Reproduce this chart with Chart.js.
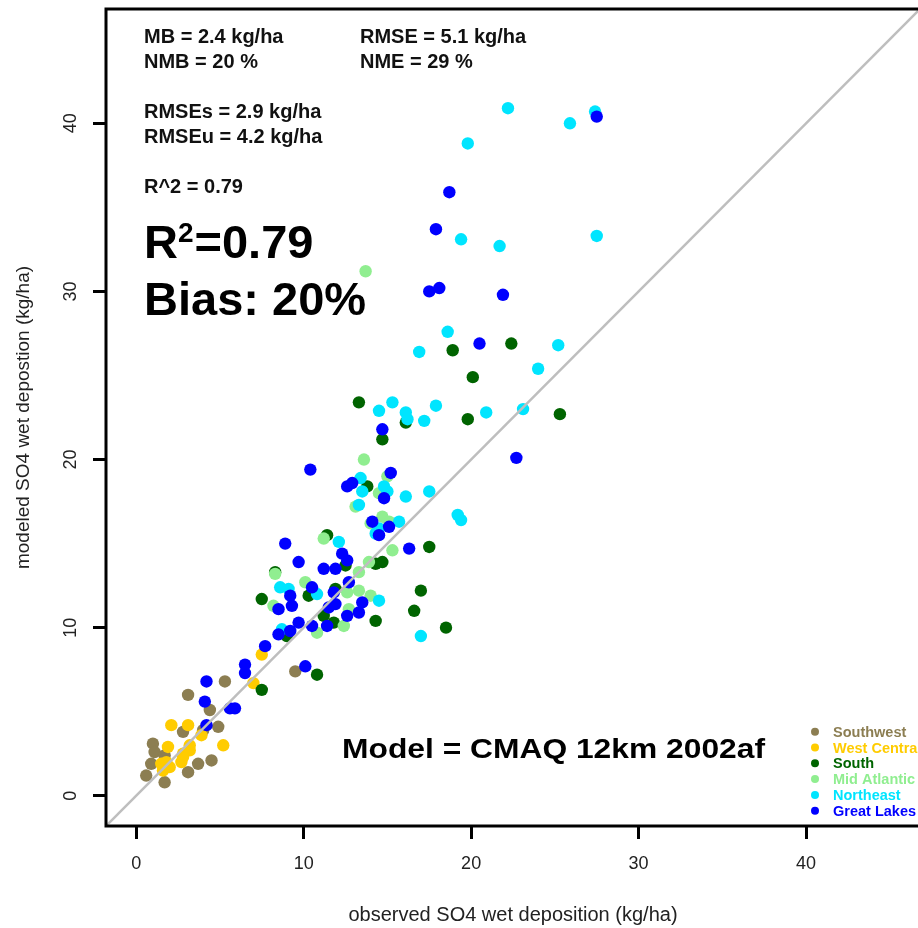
<!DOCTYPE html>
<html>
<head>
<meta charset="utf-8">
<script src="https://cdn.jsdelivr.net/npm/chart.js@4.4.1/dist/chart.umd.min.js"></script>
<style>
html, body { margin: 0; padding: 0; background: #fff; overflow: hidden; }
#wrap { width: 940px; height: 928px; }
</style>
</head>
<body>
<div id="wrap"><canvas id="myChart" width="940" height="928"></canvas></div>
<script>
const FONT = "'Liberation Sans', Arial, Helvetica, sans-serif";

// Regions (legend order) and their colours
const regions = ['Southwest', 'West Central', 'South', 'Mid Atlantic', 'Northeast', 'Great Lakes'];
const regionColors = ['#8C7E52', '#FFCC00', '#006400', '#90EE90', '#00E5FF', '#0000FF'];

// observed / modeled SO4 wet deposition (kg/ha)
const southwestObs = [0.6, 1.7, 0.9, 1.0, 1.1, 1.7, 3.1, 5.3, 9.5, 4.4, 2.8, 4.0, 4.9, 3.7, 4.5, 3.1];
const southwestMod = [1.2, 0.8, 1.9, 3.1, 2.6, 2.4, 6.0, 6.8, 7.4, 5.1, 3.8, 3.9, 4.1, 1.9, 2.1, 1.4];

const westCentralObs = [7.5, 7.0, 2.1, 3.1, 3.9, 1.9, 3.2, 5.2, 2.8, 3.2, 1.5, 1.8, 2.7, 2.8, 1.6, 2.0];
const westCentralMod = [8.4, 6.7, 4.2, 4.2, 3.6, 2.9, 3.0, 3.0, 2.5, 2.7, 1.9, 2.0, 2.0, 2.3, 1.5, 1.7];

const southObs = [7.5, 9.0, 13.3, 16.1, 14.7, 13.8, 11.4, 14.7, 14.3, 17.5, 8.3, 12.5, 11.9, 10.3,
                  7.5, 17.0, 16.6, 18.5, 14.3, 11.2, 11.8, 10.8, 18.9, 22.4, 20.1, 19.8, 25.3];
const southMod = [6.3, 9.5, 23.4, 22.2, 21.2, 18.4, 15.5, 13.9, 13.8, 14.8, 13.3, 13.7, 12.3, 11.9,
                  11.7, 12.2, 11.0, 10.0, 10.4, 10.7, 10.3, 7.2, 26.5, 26.9, 24.9, 22.4, 22.7];

const midAtlanticObs = [13.7, 13.6, 15.0, 14.5, 13.1, 14.0, 14.7, 15.1, 11.2, 15.3, 13.9, 13.3, 8.3,
                        10.1, 12.6, 13.3, 14.0, 8.2, 12.7, 12.4, 10.8];
const midAtlanticMod = [31.2, 20.0, 19.0, 18.0, 17.2, 16.2, 16.6, 16.3, 15.3, 14.6, 13.9, 13.3, 13.2,
                        12.7, 12.1, 12.2, 11.9, 11.3, 11.1, 10.1, 9.7];

const northeastObs = [22.2, 27.4, 25.9, 19.8, 19.4, 21.7, 27.5, 18.6, 16.9, 25.2, 24.0, 15.3, 17.9,
                      16.1, 20.9, 23.1, 17.2, 16.2, 14.5, 17.5, 16.1, 14.8, 15.0, 15.7, 19.2, 19.4,
                      14.5, 17.0, 14.5, 13.4, 13.5, 13.3, 14.3, 12.1, 8.6, 9.1, 10.8, 8.7];
const northeastMod = [40.9, 40.7, 40.0, 38.8, 33.1, 32.7, 33.3, 27.6, 26.4, 26.8, 25.4, 23.4, 23.2,
                      22.8, 22.8, 23.0, 22.3, 22.4, 22.9, 18.1, 17.8, 18.4, 18.1, 16.3, 16.7, 16.4,
                      15.9, 9.5, 11.6, 18.9, 18.1, 17.3, 15.6, 15.1, 12.4, 12.3, 12.0, 9.9];

const greatLakesObs = [27.5, 18.7, 17.9, 17.5, 18.1, 21.9, 20.5, 22.7, 16.3, 14.7, 15.2, 15.1, 10.4,
                       12.6, 12.9, 14.8, 14.1, 14.5, 8.9, 9.7, 12.3, 12.6, 11.2, 11.9, 12.7, 10.5,
                       9.2, 11.8, 9.3, 8.5, 11.9, 11.5, 13.5, 13.3, 12.6, 9.7, 10.5, 11.4, 8.5,
                       9.2, 7.7, 10.1, 6.5, 6.5, 4.2, 4.1, 5.6, 5.9, 4.2];
const greatLakesMod = [40.4, 35.9, 33.7, 30.0, 30.2, 29.8, 26.9, 20.1, 14.7, 21.8, 19.2, 16.0, 19.4,
                       18.4, 18.6, 17.7, 16.3, 15.5, 15.0, 13.9, 14.4, 14.0, 13.5, 13.5, 12.7, 12.4,
                       11.9, 12.1, 11.3, 11.1, 11.4, 11.2, 11.5, 10.9, 10.7, 10.3, 10.1, 10.1, 9.6,
                       9.8, 8.9, 7.7, 7.8, 7.3, 6.8, 5.6, 5.2, 5.2, 4.2];

const obsSeries = [southwestObs, westCentralObs, southObs, midAtlanticObs, northeastObs, greatLakesObs];
const modSeries = [southwestMod, westCentralMod, southMod, midAtlanticMod, northeastMod, greatLakesMod];

// axes
const xTicks = [0, 10, 20, 30, 40];
const yTicks = [0, 10, 20, 30, 40];
const axisMin = -1.8;
const axisMax = 46.8;

// statistics text
const statsLeft = ['MB = 2.4 kg/ha', 'NMB = 20 %'];
const statsRight = ['RMSE = 5.1 kg/ha', 'NME = 29 %'];
const statsRmse = ['RMSEs = 2.9 kg/ha', 'RMSEu = 4.2 kg/ha'];
const statsR2 = 'R^2 = 0.79';
const bigR2 = '=0.79';
const bigBias = 'Bias: 20%';
const modelLabel = 'Model = CMAQ 12km 2002af';

// build datasets
const datasets = [{
    type: 'line',
    label: '1:1',
    data: [{x: axisMin, y: axisMin}, {x: axisMax, y: axisMax}],
    borderColor: '#BEBEBE',
    borderWidth: 2.5,
    pointRadius: 0,
    order: 0
}];
regions.forEach(function(name, i) {
    datasets.push({
        label: name,
        data: obsSeries[i].map(function(v, j) { return {x: v, y: modSeries[i][j]}; }),
        backgroundColor: regionColors[i],
        borderColor: regionColors[i],
        borderWidth: 0,
        pointRadius: 6.2,
        order: 7 - i
    });
});

// box, rotated y labels, annotations and legend
const extras = {
    id: 'extras',
    afterDraw(chart) {
        const ctx = chart.ctx;
        const a = chart.chartArea;
        ctx.save();
        // box
        ctx.strokeStyle = '#000';
        ctx.lineWidth = 3;
        ctx.strokeRect(a.left, a.top, a.right - a.left, a.bottom - a.top);

        // y tick labels (rotated like R)
        const ys = chart.scales.y;
        ctx.fillStyle = '#222';
        ctx.font = '18px ' + FONT;
        ctx.textAlign = 'center';
        ctx.textBaseline = 'middle';
        yTicks.forEach(function(v) {
            ctx.save();
            ctx.translate(71, ys.getPixelForValue(v));
            ctx.rotate(-Math.PI / 2);
            ctx.fillText(String(v), 0, 0);
            ctx.restore();
        });

        // statistics
        ctx.fillStyle = '#111';
        ctx.textAlign = 'left';
        ctx.textBaseline = 'alphabetic';
        ctx.font = 'bold 20px ' + FONT;
        ctx.fillText(statsLeft[0], 144, 43);
        ctx.fillText(statsLeft[1], 144, 68);
        ctx.fillText(statsRight[0], 360, 43);
        ctx.fillText(statsRight[1], 360, 68);
        ctx.fillText(statsRmse[0], 144, 118);
        ctx.fillText(statsRmse[1], 144, 143);
        ctx.fillText(statsR2, 144, 193);

        // big R^2 and bias
        ctx.fillStyle = '#000';
        ctx.font = 'bold 47px ' + FONT;
        ctx.fillText('R', 144, 258);
        let x = 144 + ctx.measureText('R').width;
        ctx.font = 'bold 28px ' + FONT;
        ctx.fillText('2', x, 242);
        x += ctx.measureText('2').width + 1;
        ctx.font = 'bold 47px ' + FONT;
        ctx.fillText(bigR2, x, 258);
        ctx.fillText(bigBias, 144, 315);

        // model label (wide)
        ctx.font = 'bold 27px ' + FONT;
        const w = ctx.measureText(modelLabel).width;
        ctx.save();
        ctx.translate(342, 758);
        ctx.scale(423 / w, 1);
        ctx.fillText(modelLabel, 0, 0);
        ctx.restore();

        // legend
        ctx.font = 'bold 14.5px ' + FONT;
        ctx.textBaseline = 'middle';
        regions.forEach(function(name, i) {
            const ly = 731.7 + i * 15.8;
            ctx.fillStyle = regionColors[i];
            ctx.beginPath();
            ctx.arc(815, ly, 4, 0, Math.PI * 2);
            ctx.fill();
            ctx.fillText(name, 833, ly + 1);
        });
        ctx.restore();
    }
};

const ctx = document.getElementById('myChart').getContext('2d');
new Chart(ctx, {
    type: 'scatter',
    data: { datasets: datasets },
    options: {
        responsive: false,
        devicePixelRatio: 1,
        animation: false,
        layout: { padding: { left: 0, top: 9, right: 20, bottom: 0 } },
        plugins: {
            legend: { display: false },
            tooltip: { enabled: false }
        },
        scales: {
            x: {
                type: 'linear',
                min: axisMin,
                max: axisMax,
                afterFit: function(s) { s.height = 102; },
                afterBuildTicks: function(s) { s.ticks = xTicks.map(function(v) { return {value: v}; }); },
                grid: { drawOnChartArea: false, drawTicks: true, tickLength: 13, color: '#000', lineWidth: 3 },
                border: { display: false },
                ticks: { color: '#222', font: { size: 18, family: FONT }, padding: 14, maxRotation: 0 },
                title: {
                    display: true,
                    text: 'observed SO4 wet deposition (kg/ha)',
                    color: '#222',
                    font: { size: 20, family: FONT },
                    padding: { top: 0, bottom: 1 }
                }
            },
            y: {
                type: 'linear',
                min: axisMin,
                max: axisMax,
                afterFit: function(s) { s.width = 106; },
                afterBuildTicks: function(s) { s.ticks = yTicks.map(function(v) { return {value: v}; }); },
                grid: { drawOnChartArea: false, drawTicks: true, tickLength: 13, color: '#000', lineWidth: 3 },
                border: { display: false },
                ticks: { display: false },
                title: {
                    display: true,
                    text: 'modeled SO4 wet depostion (kg/ha)',
                    color: '#222',
                    font: { size: 19, family: FONT },
                    padding: { top: 12, bottom: 0 }
                }
            }
        }
    },
    plugins: [extras]
});
</script>
</body>
</html>
